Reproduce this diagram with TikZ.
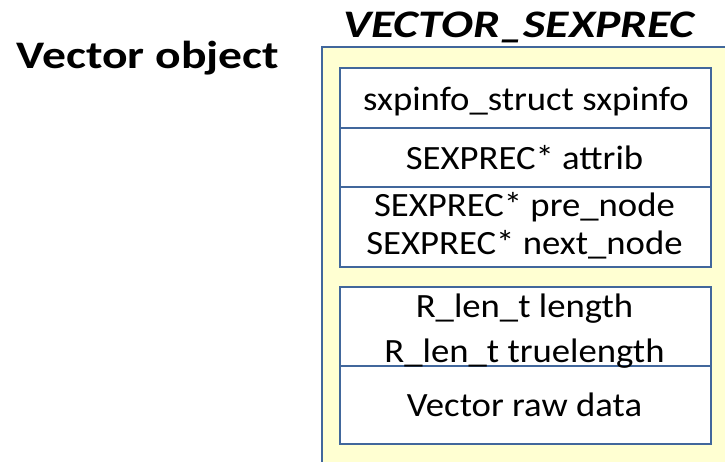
\documentclass[tikz,border=0pt]{standalone}
\usepackage{graphicx}
\usepackage{fontspec}
\setmainfont{Carlito}
\definecolor{panelfill}{HTML}{FFFFD2}
\definecolor{frameblue}{HTML}{41679C}
% wide-set text
\newcommand{\widetxt}[1]{\scalebox{1.08}[1]{#1}}
\newcommand{\wideheading}[1]{\scalebox{1.22}[1]{#1}}
\tikzset{
  field/.style={draw=frameblue, line width=1.5pt, fill=white, rectangle,
    minimum width=371pt, anchor=north west, inner sep=0pt},
  fieldtext/.style={anchor=base, inner sep=0pt, font=\fontsize{34}{38}\selectfont},
  heading/.style={anchor=base, inner sep=0pt, font=\fontsize{39}{44}\selectfont\bfseries}
}
\begin{document}
\begin{tikzpicture}[x=1pt,y=-1pt]
  \useasboundingbox (0,0) rectangle (725,461);
  \clip (0,0) rectangle (725,461);
  % outer struct panel
  \draw[frameblue, line width=2pt, fill=panelfill] (322,47) rectangle (760,490);
  % header fields
  \node[field, minimum height=60pt] (info) at (339,67) {};
  \node[field, minimum height=59pt] (attr) at (339,127) {};
  \node[field, minimum height=80pt] (links) at (339,186) {};
  % vector-specific fields
  \node[field, minimum height=79pt] (lens) at (339,286) {};
  \node[field, minimum height=78pt] (data) at (339,365) {};
  % labels
  \node[fieldtext] (infot) at (526,110) {\widetxt{sxpinfo\_struct sxpinfo}};
  \node[fieldtext] (attrt) at (524.5,169) {\widetxt{SEXPREC* attrib}};
  \node[fieldtext] (pret) at (524.5,216) {\widetxt{SEXPREC* pre\_node}};
  \node[fieldtext] (nextt) at (524.5,254) {\widetxt{SEXPREC* next\_node}};
  \node[fieldtext] (lent) at (524.5,317) {\widetxt{R\_len\_t length}};
  \node[fieldtext] (truet) at (524.5,362) {\widetxt{R\_len\_t truelength}};
  \node[fieldtext] (datat) at (524.5,416) {\widetxt{Vector raw data}};
  % titles
  \node[heading] (obj) at (148,68) {\wideheading{Vector object}};
  \node[heading, font=\fontsize{39}{44}\selectfont\bfseries\itshape] (sexp) at (519,37) {\wideheading{VECTOR\_SEXPREC}};
\end{tikzpicture}
\end{document}
